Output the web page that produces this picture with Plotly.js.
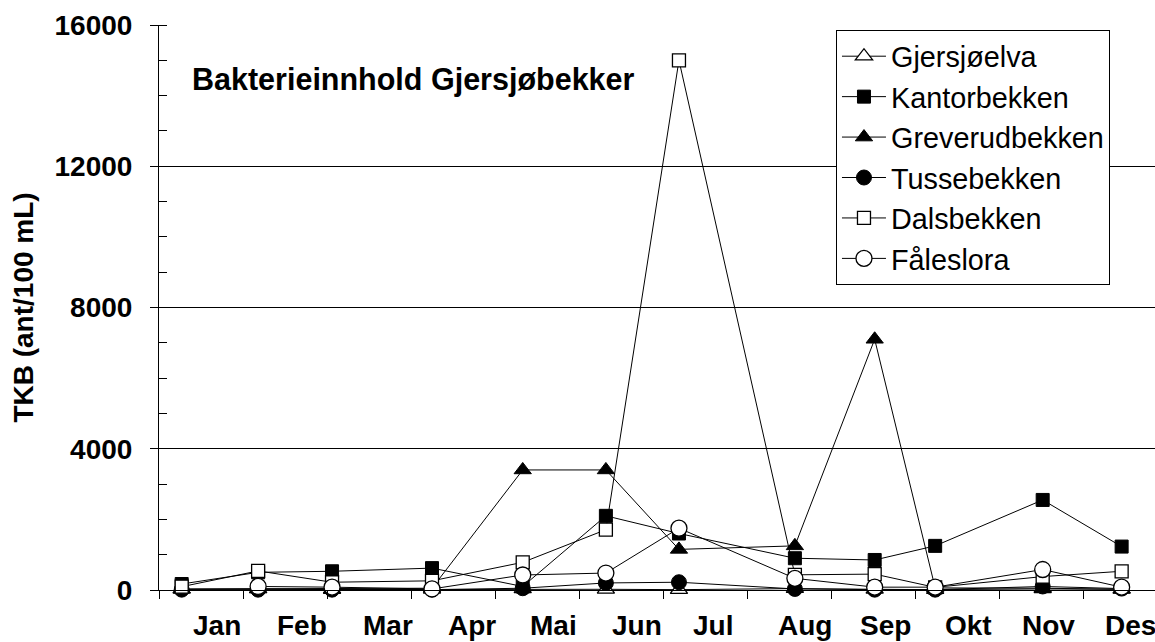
<!DOCTYPE html>
<html>
<head>
<meta charset="utf-8">
<script src="https://cdn.plot.ly/plotly-3.0.1.min.js"></script>
<style>
  html, body { margin: 0; padding: 0; background: #fff; }
  #chart { width: 1155px; height: 642px; }
</style>
</head>
<body>
<div id="chart"></div>
<script>
// Sampling time, in months from 1 January (0 = start of Jan, 12 = end of Des)
const sampleMonth = [0.27, 1.18, 2.06, 3.25, 4.33, 5.32, 6.19, 7.57, 8.52, 9.24, 10.52, 11.46];

// TKB (ant/100 mL) per stream
const gjersjoelva    = [20, 30, 10, 20, 30, 20, 10, 40, 20, 10, 30, 20];
const kantorbekken   = [170, 500, 530, 620, 100, 2100, 1600, 900, 850, 1250, 2550, 1230];
const greverudbekken = [30, 30, 30, 50, 3400, 3400, 1150, 1250, 7100, 60, 50, 20];
const tussebekken    = [10, 10, 10, 10, 50, 200, 220, 30, 10, 10, 100, 40];
const dalsbekken     = [94, 540, 220, 260, 783, 1708, 15000, 430, 450, 75, 380, 530];
const faleslora      = [null, 100, 80, 30, 425, 480, 1750, 330, 80, 80, 580, 80];

// Month labels and their positions (months) along the x axis
const monthLabels = ["Jan", "Feb", "Mar", "Apr", "Mai", "Jun", "Jul", "Aug", "Sep", "Okt", "Nov", "Des"];
const monthLabelPos = [0.687, 1.705, 2.722, 3.723, 4.693, 5.687, 6.592, 7.69, 8.651, 9.64, 10.586, 11.568];
const monthTicks = [0, 1, 2, 3, 4, 5, 6, 7, 8, 9, 10, 11, 12];

const FONT = "Liberation Sans, Arial, Helvetica, sans-serif";

function series(name, y, symbol, filled, size) {
  return {
    type: "scatter",
    mode: "lines+markers",
    name: name,
    legendgroup: name,
    x: sampleMonth,
    y: y,
    connectgaps: false,
    line: { color: "#000", width: 1 },
    marker: {
      symbol: symbol,
      size: size,
      color: filled ? "#000" : "#fff",
      line: { color: "#000", width: filled ? 1 : 1.3 }
    },
    cliponaxis: false
  };
}

const data = [
  series("Gjersjøelva", gjersjoelva, "triangle-up", false, 15),
  series("Kantorbekken", kantorbekken, "square", true, 13),
  series("Greverudbekken", greverudbekken, "triangle-up", true, 15),
  series("Tussebekken", tussebekken, "circle", true, 15),
  series("Dalsbekken", dalsbekken, "square", false, 13),
  series("Fåleslora", faleslora, "circle", false, 16)
];

const annotations = monthLabels.map((m, i) => ({
  text: m,
  x: monthLabelPos[i],
  xref: "x",
  y: -0.0628,
  yref: "paper",
  xanchor: "center",
  yanchor: "middle",
  showarrow: false,
  font: { family: FONT, size: 28, color: "#000", weight: "bold" }
}));

annotations.push({
  text: "Bakterieinnhold Gjersjøbekker",
  x: 0.0311,
  xref: "paper",
  y: 0.9027,
  yref: "paper",
  xanchor: "left",
  yanchor: "middle",
  showarrow: false,
  font: { family: FONT, size: 30.5, color: "#000", weight: "bold" }
});

const layout = {
  width: 1155,
  height: 642,
  margin: { l: 159, r: 0, t: 25, b: 52, pad: 0 },
  paper_bgcolor: "#fff",
  plot_bgcolor: "#fff",
  font: { family: FONT, color: "#000" },
  showlegend: true,
  legend: {
    x: 0.6797,
    y: 0.9912,
    xanchor: "left",
    yanchor: "top",
    bgcolor: "#fff",
    bordercolor: "#000",
    borderwidth: 1,
    font: { family: FONT, size: 28.8, color: "#000" },
    tracegroupgap: 0,
    itemwidth: 44,
    traceorder: "grouped"
  },
  xaxis: {
    range: [0, 996 / 84],
    tickmode: "array",
    tickvals: monthTicks,
    showticklabels: false,
    ticks: "outside",
    ticklen: 8,
    tickcolor: "#000",
    tickwidth: 1,
    showline: true,
    linecolor: "#000",
    linewidth: 1,
    showgrid: false,
    zeroline: false,
    fixedrange: true
  },
  yaxis: {
    range: [0, 16000],
    tickmode: "linear",
    tick0: 0,
    dtick: 4000,
    tickformat: "d",
    ticks: "outside",
    ticklen: 8,
    tickcolor: "#000",
    tickwidth: 1,
    ticklabelstandoff: 12,
    tickfont: { family: FONT, size: 28, color: "#000", weight: "bold" },
    minor: { dtick: 1000, ticks: "inside", ticklen: 8, tickcolor: "#000", tickwidth: 1, showgrid: false },
    showline: true,
    linecolor: "#000",
    linewidth: 1,
    showgrid: true,
    gridcolor: "#000",
    gridwidth: 1,
    zeroline: false,
    title: {
      text: "TKB (ant/100 mL)",
      font: { family: FONT, size: 28, color: "#000", weight: "bold" },
      standoff: 12
    },
    fixedrange: true
  },
  annotations: annotations
};

Plotly.newPlot("chart", data, layout, { displayModeBar: false, staticPlot: true });
</script>
</body>
</html>
